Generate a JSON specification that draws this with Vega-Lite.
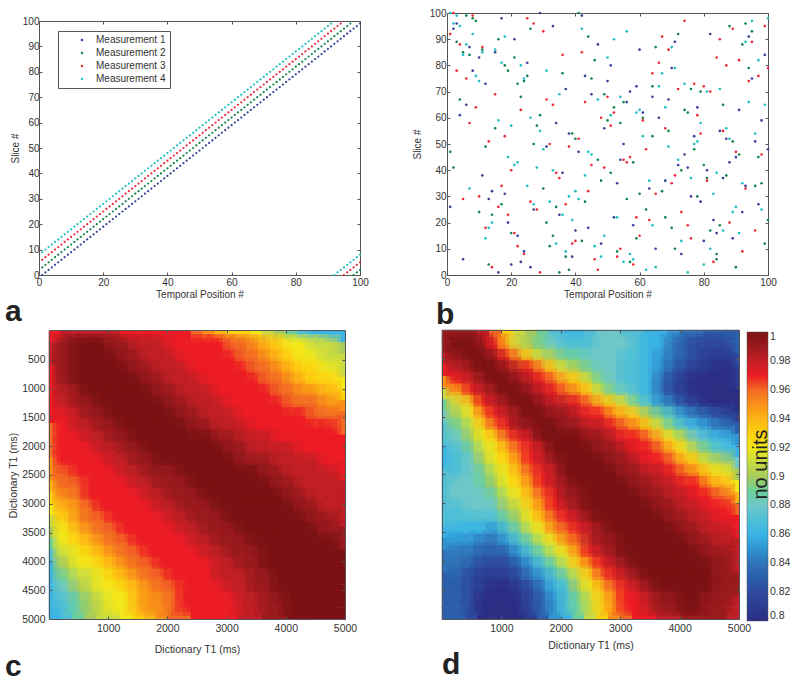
{"$schema":"https://vega.github.io/schema/vega-lite/v6.json","background":"white","padding":{"left":4,"top":8,"right":5,"bottom":5},"bounds":"flush","align":"all","columns":2,"spacing":{"row":28,"column":77},
"config":{"view":{"stroke":null},"font":"Liberation Sans","axis":{"labelFlush":false,"labelFont":"Liberation Sans","titleFont":"Liberation Sans","labelFontSize":10.5,"titleFontSize":10.5,"titleFontWeight":"normal","grid":false,"tickSize":-3,"domainColor":"#555","tickColor":"#555","labelColor":"#333","titleColor":"#333","labelPadding":3,"titlePadding":2}},
"datasets":{
"a":[{"x":1,"y":0,"m":1},{"x":2,"y":1,"m":1},{"x":3,"y":2,"m":1},{"x":4,"y":3,"m":1},{"x":5,"y":4,"m":1},{"x":6,"y":5,"m":1},{"x":7,"y":6,"m":1},{"x":8,"y":7,"m":1},{"x":9,"y":8,"m":1},{"x":10,"y":9,"m":1},{"x":11,"y":10,"m":1},{"x":12,"y":11,"m":1},{"x":13,"y":12,"m":1},{"x":14,"y":13,"m":1},{"x":15,"y":14,"m":1},{"x":16,"y":15,"m":1},{"x":17,"y":16,"m":1},{"x":18,"y":17,"m":1},{"x":19,"y":18,"m":1},{"x":20,"y":19,"m":1},{"x":21,"y":20,"m":1},{"x":22,"y":21,"m":1},{"x":23,"y":22,"m":1},{"x":24,"y":23,"m":1},{"x":25,"y":24,"m":1},{"x":26,"y":25,"m":1},{"x":27,"y":26,"m":1},{"x":28,"y":27,"m":1},{"x":29,"y":28,"m":1},{"x":30,"y":29,"m":1},{"x":31,"y":30,"m":1},{"x":32,"y":31,"m":1},{"x":33,"y":32,"m":1},{"x":34,"y":33,"m":1},{"x":35,"y":34,"m":1},{"x":36,"y":35,"m":1},{"x":37,"y":36,"m":1},{"x":38,"y":37,"m":1},{"x":39,"y":38,"m":1},{"x":40,"y":39,"m":1},{"x":41,"y":40,"m":1},{"x":42,"y":41,"m":1},{"x":43,"y":42,"m":1},{"x":44,"y":43,"m":1},{"x":45,"y":44,"m":1},{"x":46,"y":45,"m":1},{"x":47,"y":46,"m":1},{"x":48,"y":47,"m":1},{"x":49,"y":48,"m":1},{"x":50,"y":49,"m":1},{"x":51,"y":50,"m":1},{"x":52,"y":51,"m":1},{"x":53,"y":52,"m":1},{"x":54,"y":53,"m":1},{"x":55,"y":54,"m":1},{"x":56,"y":55,"m":1},{"x":57,"y":56,"m":1},{"x":58,"y":57,"m":1},{"x":59,"y":58,"m":1},{"x":60,"y":59,"m":1},{"x":61,"y":60,"m":1},{"x":62,"y":61,"m":1},{"x":63,"y":62,"m":1},{"x":64,"y":63,"m":1},{"x":65,"y":64,"m":1},{"x":66,"y":65,"m":1},{"x":67,"y":66,"m":1},{"x":68,"y":67,"m":1},{"x":69,"y":68,"m":1},{"x":70,"y":69,"m":1},{"x":71,"y":70,"m":1},{"x":72,"y":71,"m":1},{"x":73,"y":72,"m":1},{"x":74,"y":73,"m":1},{"x":75,"y":74,"m":1},{"x":76,"y":75,"m":1},{"x":77,"y":76,"m":1},{"x":78,"y":77,"m":1},{"x":79,"y":78,"m":1},{"x":80,"y":79,"m":1},{"x":81,"y":80,"m":1},{"x":82,"y":81,"m":1},{"x":83,"y":82,"m":1},{"x":84,"y":83,"m":1},{"x":85,"y":84,"m":1},{"x":86,"y":85,"m":1},{"x":87,"y":86,"m":1},{"x":88,"y":87,"m":1},{"x":89,"y":88,"m":1},{"x":90,"y":89,"m":1},{"x":91,"y":90,"m":1},{"x":92,"y":91,"m":1},{"x":93,"y":92,"m":1},{"x":94,"y":93,"m":1},{"x":95,"y":94,"m":1},{"x":96,"y":95,"m":1},{"x":97,"y":96,"m":1},{"x":98,"y":97,"m":1},{"x":99,"y":98,"m":1},{"x":100,"y":99,"m":1},
{"x":1,"y":3,"m":2},{"x":2,"y":4,"m":2},{"x":3,"y":5,"m":2},{"x":4,"y":6,"m":2},{"x":5,"y":7,"m":2},{"x":6,"y":8,"m":2},{"x":7,"y":9,"m":2},{"x":8,"y":10,"m":2},{"x":9,"y":11,"m":2},{"x":10,"y":12,"m":2},{"x":11,"y":13,"m":2},{"x":12,"y":14,"m":2},{"x":13,"y":15,"m":2},{"x":14,"y":16,"m":2},{"x":15,"y":17,"m":2},{"x":16,"y":18,"m":2},{"x":17,"y":19,"m":2},{"x":18,"y":20,"m":2},{"x":19,"y":21,"m":2},{"x":20,"y":22,"m":2},{"x":21,"y":23,"m":2},{"x":22,"y":24,"m":2},{"x":23,"y":25,"m":2},{"x":24,"y":26,"m":2},{"x":25,"y":27,"m":2},{"x":26,"y":28,"m":2},{"x":27,"y":29,"m":2},{"x":28,"y":30,"m":2},{"x":29,"y":31,"m":2},{"x":30,"y":32,"m":2},{"x":31,"y":33,"m":2},{"x":32,"y":34,"m":2},{"x":33,"y":35,"m":2},{"x":34,"y":36,"m":2},{"x":35,"y":37,"m":2},{"x":36,"y":38,"m":2},{"x":37,"y":39,"m":2},{"x":38,"y":40,"m":2},{"x":39,"y":41,"m":2},{"x":40,"y":42,"m":2},{"x":41,"y":43,"m":2},{"x":42,"y":44,"m":2},{"x":43,"y":45,"m":2},{"x":44,"y":46,"m":2},{"x":45,"y":47,"m":2},{"x":46,"y":48,"m":2},{"x":47,"y":49,"m":2},{"x":48,"y":50,"m":2},{"x":49,"y":51,"m":2},{"x":50,"y":52,"m":2},{"x":51,"y":53,"m":2},{"x":52,"y":54,"m":2},{"x":53,"y":55,"m":2},{"x":54,"y":56,"m":2},{"x":55,"y":57,"m":2},{"x":56,"y":58,"m":2},{"x":57,"y":59,"m":2},{"x":58,"y":60,"m":2},{"x":59,"y":61,"m":2},{"x":60,"y":62,"m":2},{"x":61,"y":63,"m":2},{"x":62,"y":64,"m":2},{"x":63,"y":65,"m":2},{"x":64,"y":66,"m":2},{"x":65,"y":67,"m":2},{"x":66,"y":68,"m":2},{"x":67,"y":69,"m":2},{"x":68,"y":70,"m":2},{"x":69,"y":71,"m":2},{"x":70,"y":72,"m":2},{"x":71,"y":73,"m":2},{"x":72,"y":74,"m":2},{"x":73,"y":75,"m":2},{"x":74,"y":76,"m":2},{"x":75,"y":77,"m":2},{"x":76,"y":78,"m":2},{"x":77,"y":79,"m":2},{"x":78,"y":80,"m":2},{"x":79,"y":81,"m":2},{"x":80,"y":82,"m":2},{"x":81,"y":83,"m":2},{"x":82,"y":84,"m":2},{"x":83,"y":85,"m":2},{"x":84,"y":86,"m":2},{"x":85,"y":87,"m":2},{"x":86,"y":88,"m":2},{"x":87,"y":89,"m":2},{"x":88,"y":90,"m":2},{"x":89,"y":91,"m":2},{"x":90,"y":92,"m":2},{"x":91,"y":93,"m":2},{"x":92,"y":94,"m":2},{"x":93,"y":95,"m":2},{"x":94,"y":96,"m":2},{"x":95,"y":97,"m":2},{"x":96,"y":98,"m":2},{"x":97,"y":99,"m":2},{"x":98,"y":0,"m":2},{"x":99,"y":1,"m":2},{"x":100,"y":2,"m":2},
{"x":1,"y":6,"m":3},{"x":2,"y":7,"m":3},{"x":3,"y":8,"m":3},{"x":4,"y":9,"m":3},{"x":5,"y":10,"m":3},{"x":6,"y":11,"m":3},{"x":7,"y":12,"m":3},{"x":8,"y":13,"m":3},{"x":9,"y":14,"m":3},{"x":10,"y":15,"m":3},{"x":11,"y":16,"m":3},{"x":12,"y":17,"m":3},{"x":13,"y":18,"m":3},{"x":14,"y":19,"m":3},{"x":15,"y":20,"m":3},{"x":16,"y":21,"m":3},{"x":17,"y":22,"m":3},{"x":18,"y":23,"m":3},{"x":19,"y":24,"m":3},{"x":20,"y":25,"m":3},{"x":21,"y":26,"m":3},{"x":22,"y":27,"m":3},{"x":23,"y":28,"m":3},{"x":24,"y":29,"m":3},{"x":25,"y":30,"m":3},{"x":26,"y":31,"m":3},{"x":27,"y":32,"m":3},{"x":28,"y":33,"m":3},{"x":29,"y":34,"m":3},{"x":30,"y":35,"m":3},{"x":31,"y":36,"m":3},{"x":32,"y":37,"m":3},{"x":33,"y":38,"m":3},{"x":34,"y":39,"m":3},{"x":35,"y":40,"m":3},{"x":36,"y":41,"m":3},{"x":37,"y":42,"m":3},{"x":38,"y":43,"m":3},{"x":39,"y":44,"m":3},{"x":40,"y":45,"m":3},{"x":41,"y":46,"m":3},{"x":42,"y":47,"m":3},{"x":43,"y":48,"m":3},{"x":44,"y":49,"m":3},{"x":45,"y":50,"m":3},{"x":46,"y":51,"m":3},{"x":47,"y":52,"m":3},{"x":48,"y":53,"m":3},{"x":49,"y":54,"m":3},{"x":50,"y":55,"m":3},{"x":51,"y":56,"m":3},{"x":52,"y":57,"m":3},{"x":53,"y":58,"m":3},{"x":54,"y":59,"m":3},{"x":55,"y":60,"m":3},{"x":56,"y":61,"m":3},{"x":57,"y":62,"m":3},{"x":58,"y":63,"m":3},{"x":59,"y":64,"m":3},{"x":60,"y":65,"m":3},{"x":61,"y":66,"m":3},{"x":62,"y":67,"m":3},{"x":63,"y":68,"m":3},{"x":64,"y":69,"m":3},{"x":65,"y":70,"m":3},{"x":66,"y":71,"m":3},{"x":67,"y":72,"m":3},{"x":68,"y":73,"m":3},{"x":69,"y":74,"m":3},{"x":70,"y":75,"m":3},{"x":71,"y":76,"m":3},{"x":72,"y":77,"m":3},{"x":73,"y":78,"m":3},{"x":74,"y":79,"m":3},{"x":75,"y":80,"m":3},{"x":76,"y":81,"m":3},{"x":77,"y":82,"m":3},{"x":78,"y":83,"m":3},{"x":79,"y":84,"m":3},{"x":80,"y":85,"m":3},{"x":81,"y":86,"m":3},{"x":82,"y":87,"m":3},{"x":83,"y":88,"m":3},{"x":84,"y":89,"m":3},{"x":85,"y":90,"m":3},{"x":86,"y":91,"m":3},{"x":87,"y":92,"m":3},{"x":88,"y":93,"m":3},{"x":89,"y":94,"m":3},{"x":90,"y":95,"m":3},{"x":91,"y":96,"m":3},{"x":92,"y":97,"m":3},{"x":93,"y":98,"m":3},{"x":94,"y":99,"m":3},{"x":95,"y":0,"m":3},{"x":96,"y":1,"m":3},{"x":97,"y":2,"m":3},{"x":98,"y":3,"m":3},{"x":99,"y":4,"m":3},{"x":100,"y":5,"m":3},
{"x":1,"y":9,"m":4},{"x":2,"y":10,"m":4},{"x":3,"y":11,"m":4},{"x":4,"y":12,"m":4},{"x":5,"y":13,"m":4},{"x":6,"y":14,"m":4},{"x":7,"y":15,"m":4},{"x":8,"y":16,"m":4},{"x":9,"y":17,"m":4},{"x":10,"y":18,"m":4},{"x":11,"y":19,"m":4},{"x":12,"y":20,"m":4},{"x":13,"y":21,"m":4},{"x":14,"y":22,"m":4},{"x":15,"y":23,"m":4},{"x":16,"y":24,"m":4},{"x":17,"y":25,"m":4},{"x":18,"y":26,"m":4},{"x":19,"y":27,"m":4},{"x":20,"y":28,"m":4},{"x":21,"y":29,"m":4},{"x":22,"y":30,"m":4},{"x":23,"y":31,"m":4},{"x":24,"y":32,"m":4},{"x":25,"y":33,"m":4},{"x":26,"y":34,"m":4},{"x":27,"y":35,"m":4},{"x":28,"y":36,"m":4},{"x":29,"y":37,"m":4},{"x":30,"y":38,"m":4},{"x":31,"y":39,"m":4},{"x":32,"y":40,"m":4},{"x":33,"y":41,"m":4},{"x":34,"y":42,"m":4},{"x":35,"y":43,"m":4},{"x":36,"y":44,"m":4},{"x":37,"y":45,"m":4},{"x":38,"y":46,"m":4},{"x":39,"y":47,"m":4},{"x":40,"y":48,"m":4},{"x":41,"y":49,"m":4},{"x":42,"y":50,"m":4},{"x":43,"y":51,"m":4},{"x":44,"y":52,"m":4},{"x":45,"y":53,"m":4},{"x":46,"y":54,"m":4},{"x":47,"y":55,"m":4},{"x":48,"y":56,"m":4},{"x":49,"y":57,"m":4},{"x":50,"y":58,"m":4},{"x":51,"y":59,"m":4},{"x":52,"y":60,"m":4},{"x":53,"y":61,"m":4},{"x":54,"y":62,"m":4},{"x":55,"y":63,"m":4},{"x":56,"y":64,"m":4},{"x":57,"y":65,"m":4},{"x":58,"y":66,"m":4},{"x":59,"y":67,"m":4},{"x":60,"y":68,"m":4},{"x":61,"y":69,"m":4},{"x":62,"y":70,"m":4},{"x":63,"y":71,"m":4},{"x":64,"y":72,"m":4},{"x":65,"y":73,"m":4},{"x":66,"y":74,"m":4},{"x":67,"y":75,"m":4},{"x":68,"y":76,"m":4},{"x":69,"y":77,"m":4},{"x":70,"y":78,"m":4},{"x":71,"y":79,"m":4},{"x":72,"y":80,"m":4},{"x":73,"y":81,"m":4},{"x":74,"y":82,"m":4},{"x":75,"y":83,"m":4},{"x":76,"y":84,"m":4},{"x":77,"y":85,"m":4},{"x":78,"y":86,"m":4},{"x":79,"y":87,"m":4},{"x":80,"y":88,"m":4},{"x":81,"y":89,"m":4},{"x":82,"y":90,"m":4},{"x":83,"y":91,"m":4},{"x":84,"y":92,"m":4},{"x":85,"y":93,"m":4},{"x":86,"y":94,"m":4},{"x":87,"y":95,"m":4},{"x":88,"y":96,"m":4},{"x":89,"y":97,"m":4},{"x":90,"y":98,"m":4},{"x":91,"y":99,"m":4},{"x":92,"y":0,"m":4},{"x":93,"y":1,"m":4},{"x":94,"y":2,"m":4},{"x":95,"y":3,"m":4},{"x":96,"y":4,"m":4},{"x":97,"y":5,"m":4},{"x":98,"y":6,"m":4},{"x":99,"y":7,"m":4},{"x":100,"y":8,"m":4}],
"b":[{"x":1,"y":100,"m":4},{"x":2,"y":100,"m":3},{"x":8,"y":99,"m":3},{"x":3,"y":99,"m":4},{"x":6,"y":99,"m":2},{"x":8,"y":98,"m":2},{"x":9,"y":97,"m":2},{"x":2,"y":96,"m":4},{"x":3,"y":96,"m":1},{"x":4,"y":95,"m":4},{"x":2,"y":94,"m":1},{"x":1,"y":92,"m":3},{"x":8,"y":92,"m":4},{"x":3,"y":89,"m":2},{"x":4,"y":88,"m":3},{"x":6,"y":88,"m":4},{"x":7,"y":87,"m":1},{"x":11,"y":87,"m":3},{"x":11,"y":86,"m":2},{"x":11,"y":85,"m":4},{"x":5,"y":85,"m":2},{"x":5,"y":84,"m":4},{"x":7,"y":84,"m":2},{"x":10,"y":83,"m":1},{"x":15,"y":86,"m":4},{"x":15,"y":85,"m":1},{"x":16,"y":90,"m":2},{"x":18,"y":91,"m":4},{"x":21,"y":90,"m":1},{"x":17,"y":98,"m":1},{"x":25,"y":98,"m":3},{"x":27,"y":96,"m":3},{"x":26,"y":94,"m":2},{"x":30,"y":93,"m":3},{"x":33,"y":95,"m":1},{"x":29,"y":100,"m":1},{"x":41,"y":100,"m":2},{"x":42,"y":99,"m":1},{"x":42,"y":94,"m":4},{"x":44,"y":91,"m":2},{"x":47,"y":88,"m":1},{"x":42,"y":85,"m":3},{"x":36,"y":84,"m":3},{"x":21,"y":83,"m":2},{"x":25,"y":81,"m":1},{"x":17,"y":81,"m":4},{"x":18,"y":80,"m":2},{"x":23,"y":80,"m":4},{"x":19,"y":78,"m":2},{"x":31,"y":78,"m":4},{"x":3,"y":78,"m":3},{"x":8,"y":78,"m":1},{"x":9,"y":76,"m":4},{"x":6,"y":75,"m":3},{"x":10,"y":74,"m":4},{"x":12,"y":73,"m":1},{"x":25,"y":76,"m":2},{"x":24,"y":75,"m":4},{"x":24,"y":74,"m":2},{"x":22,"y":73,"m":2},{"x":36,"y":77,"m":2},{"x":43,"y":76,"m":1},{"x":45,"y":75,"m":2},{"x":37,"y":71,"m":1},{"x":46,"y":82,"m":2},{"x":50,"y":83,"m":4},{"x":51,"y":80,"m":1},{"x":52,"y":90,"m":4},{"x":56,"y":93,"m":4},{"x":60,"y":86,"m":1},{"x":65,"y":87,"m":2},{"x":67,"y":91,"m":3},{"x":69,"y":86,"m":3},{"x":70,"y":87,"m":4},{"x":71,"y":89,"m":1},{"x":72,"y":92,"m":2},{"x":74,"y":97,"m":3},{"x":82,"y":92,"m":1},{"x":85,"y":90,"m":3},{"x":88,"y":95,"m":2},{"x":89,"y":94,"m":3},{"x":93,"y":96,"m":2},{"x":95,"y":97,"m":4},{"x":94,"y":91,"m":1},{"x":95,"y":93,"m":2},{"x":95,"y":89,"m":3},{"x":92,"y":88,"m":2},{"x":93,"y":89,"m":4},{"x":99,"y":95,"m":3},{"x":100,"y":98,"m":4},{"x":99,"y":84,"m":1},{"x":97,"y":82,"m":4},{"x":91,"y":82,"m":3},{"x":94,"y":79,"m":2},{"x":100,"y":79,"m":3},{"x":95,"y":75,"m":1},{"x":94,"y":74,"m":3},{"x":97,"y":76,"m":3},{"x":84,"y":83,"m":3},{"x":87,"y":80,"m":3},{"x":70,"y":79,"m":1},{"x":71,"y":79,"m":4},{"x":66,"y":81,"m":3},{"x":64,"y":77,"m":3},{"x":67,"y":77,"m":4},{"x":50,"y":74,"m":1},{"x":64,"y":72,"m":2},{"x":66,"y":72,"m":4},{"x":59,"y":72,"m":1},{"x":57,"y":70,"m":1},{"x":74,"y":73,"m":4},{"x":77,"y":73,"m":3},{"x":72,"y":71,"m":3},{"x":76,"y":71,"m":2},{"x":80,"y":72,"m":3},{"x":79,"y":70,"m":2},{"x":81,"y":70,"m":4},{"x":82,"y":70,"m":3},{"x":85,"y":71,"m":4},{"x":15,"y":69,"m":3},{"x":35,"y":69,"m":4},{"x":45,"y":69,"m":1},{"x":49,"y":69,"m":2},{"x":47,"y":67,"m":4},{"x":50,"y":68,"m":3},{"x":54,"y":68,"m":4},{"x":43,"y":66,"m":3},{"x":55,"y":66,"m":2},{"x":56,"y":66,"m":1},{"x":64,"y":68,"m":1},{"x":69,"y":67,"m":1},{"x":4,"y":67,"m":2},{"x":23,"y":68,"m":2},{"x":31,"y":67,"m":3},{"x":33,"y":65,"m":3},{"x":6,"y":65,"m":1},{"x":9,"y":64,"m":3},{"x":23,"y":63,"m":3},{"x":52,"y":64,"m":2},{"x":68,"y":64,"m":4},{"x":78,"y":64,"m":1},{"x":86,"y":65,"m":2},{"x":94,"y":66,"m":4},{"x":99,"y":65,"m":4},{"x":91,"y":63,"m":1},{"x":74,"y":63,"m":2},{"x":75,"y":62,"m":2},{"x":78,"y":61,"m":3},{"x":52,"y":62,"m":3},{"x":51,"y":61,"m":4},{"x":59,"y":62,"m":4},{"x":60,"y":63,"m":4},{"x":61,"y":62,"m":1},{"x":4,"y":61,"m":1},{"x":29,"y":61,"m":2},{"x":26,"y":60,"m":4},{"x":16,"y":59,"m":4},{"x":48,"y":60,"m":3},{"x":50,"y":59,"m":2},{"x":61,"y":60,"m":2},{"x":61,"y":59,"m":3},{"x":66,"y":60,"m":1},{"x":7,"y":58,"m":3},{"x":34,"y":58,"m":1},{"x":54,"y":58,"m":2},{"x":79,"y":58,"m":4},{"x":98,"y":59,"m":1},{"x":20,"y":57,"m":4},{"x":28,"y":57,"m":2},{"x":51,"y":57,"m":3},{"x":15,"y":56,"m":2},{"x":49,"y":56,"m":1},{"x":68,"y":56,"m":3},{"x":87,"y":56,"m":4},{"x":29,"y":55,"m":4},{"x":69,"y":55,"m":2},{"x":85,"y":55,"m":1},{"x":86,"y":55,"m":3},{"x":38,"y":54,"m":1},{"x":39,"y":54,"m":2},{"x":79,"y":54,"m":3},{"x":96,"y":54,"m":4},{"x":18,"y":53,"m":3},{"x":61,"y":53,"m":4},{"x":64,"y":53,"m":2},{"x":77,"y":53,"m":1},{"x":40,"y":52,"m":2},{"x":41,"y":52,"m":3},{"x":87,"y":52,"m":1},{"x":88,"y":52,"m":4},{"x":13,"y":51,"m":3},{"x":78,"y":51,"m":4},{"x":89,"y":51,"m":2},{"x":96,"y":51,"m":1},{"x":27,"y":50,"m":2},{"x":32,"y":50,"m":3},{"x":55,"y":50,"m":1},{"x":77,"y":50,"m":4},{"x":12,"y":49,"m":2},{"x":31,"y":49,"m":1},{"x":38,"y":49,"m":3},{"x":69,"y":49,"m":4},{"x":30,"y":48,"m":4},{"x":62,"y":48,"m":3},{"x":77,"y":48,"m":2},{"x":100,"y":48,"m":1},{"x":1,"y":47,"m":2},{"x":41,"y":47,"m":1},{"x":44,"y":47,"m":4},{"x":90,"y":47,"m":3},{"x":45,"y":46,"m":4},{"x":74,"y":46,"m":1},{"x":91,"y":46,"m":2},{"x":98,"y":46,"m":3},{"x":19,"y":45,"m":4},{"x":57,"y":45,"m":3},{"x":90,"y":45,"m":1},{"x":97,"y":45,"m":2},{"x":22,"y":43,"m":4},{"x":21,"y":42,"m":4},{"x":47,"y":44,"m":2},{"x":54,"y":44,"m":1},{"x":55,"y":44,"m":3},{"x":72,"y":44,"m":4},{"x":56,"y":43,"m":3},{"x":58,"y":43,"m":2},{"x":88,"y":43,"m":1},{"x":45,"y":42,"m":3},{"x":72,"y":42,"m":1},{"x":80,"y":42,"m":2},{"x":2,"y":41,"m":2},{"x":28,"y":41,"m":4},{"x":49,"y":41,"m":3},{"x":75,"y":41,"m":1},{"x":20,"y":40,"m":3},{"x":33,"y":40,"m":4},{"x":73,"y":40,"m":2},{"x":81,"y":40,"m":1},{"x":34,"y":39,"m":3},{"x":36,"y":39,"m":1},{"x":51,"y":39,"m":2},{"x":84,"y":39,"m":4},{"x":11,"y":38,"m":1},{"x":43,"y":38,"m":4},{"x":71,"y":38,"m":3},{"x":87,"y":38,"m":2},{"x":35,"y":37,"m":3},{"x":76,"y":37,"m":4},{"x":81,"y":37,"m":2},{"x":86,"y":37,"m":1},{"x":48,"y":36,"m":2},{"x":63,"y":36,"m":4},{"x":68,"y":36,"m":1},{"x":81,"y":36,"m":3},{"x":53,"y":35,"m":1},{"x":70,"y":35,"m":3},{"x":92,"y":35,"m":4},{"x":98,"y":35,"m":2},{"x":17,"y":34,"m":3},{"x":25,"y":34,"m":4},{"x":93,"y":34,"m":1},{"x":96,"y":34,"m":2},{"x":7,"y":33,"m":4},{"x":30,"y":33,"m":2},{"x":63,"y":33,"m":1},{"x":93,"y":33,"m":3},{"x":14,"y":32,"m":1},{"x":40,"y":32,"m":4},{"x":44,"y":32,"m":3},{"x":67,"y":32,"m":2},{"x":18,"y":31,"m":1},{"x":60,"y":31,"m":2},{"x":65,"y":31,"m":3},{"x":83,"y":31,"m":4},{"x":10,"y":30,"m":3},{"x":38,"y":30,"m":4},{"x":76,"y":30,"m":1},{"x":78,"y":30,"m":2},{"x":5,"y":29,"m":3},{"x":13,"y":29,"m":1},{"x":41,"y":29,"m":4},{"x":56,"y":29,"m":2},{"x":26,"y":28,"m":3},{"x":32,"y":28,"m":4},{"x":43,"y":28,"m":2},{"x":79,"y":28,"m":1},{"x":17,"y":27,"m":2},{"x":27,"y":27,"m":4},{"x":37,"y":27,"m":3},{"x":97,"y":27,"m":1},{"x":1,"y":26,"m":1},{"x":16,"y":26,"m":3},{"x":34,"y":26,"m":2},{"x":90,"y":26,"m":4},{"x":27,"y":25,"m":1},{"x":28,"y":25,"m":3},{"x":62,"y":25,"m":2},{"x":98,"y":25,"m":4},{"x":10,"y":24,"m":2},{"x":73,"y":24,"m":3},{"x":89,"y":24,"m":4},{"x":92,"y":24,"m":1},{"x":14,"y":23,"m":2},{"x":19,"y":23,"m":3},{"x":35,"y":23,"m":1},{"x":36,"y":23,"m":4},{"x":52,"y":22,"m":1},{"x":53,"y":22,"m":4},{"x":59,"y":22,"m":3},{"x":68,"y":22,"m":2},{"x":39,"y":21,"m":4},{"x":63,"y":21,"m":3},{"x":83,"y":21,"m":1},{"x":100,"y":21,"m":2},{"x":14,"y":20,"m":4},{"x":19,"y":20,"m":1},{"x":31,"y":20,"m":2},{"x":88,"y":20,"m":3},{"x":58,"y":19,"m":1},{"x":64,"y":19,"m":4},{"x":75,"y":19,"m":3},{"x":85,"y":19,"m":2},{"x":12,"y":18,"m":3},{"x":13,"y":18,"m":4},{"x":44,"y":18,"m":1},{"x":70,"y":18,"m":2},{"x":40,"y":17,"m":1},{"x":82,"y":17,"m":2},{"x":86,"y":17,"m":4},{"x":96,"y":17,"m":3},{"x":20,"y":16,"m":2},{"x":21,"y":16,"m":3},{"x":84,"y":16,"m":1},{"x":91,"y":16,"m":4},{"x":22,"y":15,"m":1},{"x":33,"y":15,"m":2},{"x":49,"y":15,"m":4},{"x":60,"y":15,"m":3},{"x":12,"y":14,"m":4},{"x":59,"y":14,"m":2},{"x":76,"y":14,"m":3},{"x":89,"y":14,"m":1},{"x":40,"y":13,"m":3},{"x":42,"y":13,"m":2},{"x":73,"y":13,"m":4},{"x":80,"y":13,"m":1},{"x":34,"y":12,"m":4},{"x":39,"y":12,"m":3},{"x":48,"y":12,"m":1},{"x":99,"y":12,"m":2},{"x":22,"y":11,"m":3},{"x":32,"y":11,"m":2},{"x":46,"y":11,"m":4},{"x":65,"y":10,"m":1},{"x":54,"y":10,"m":3},{"x":71,"y":10,"m":2},{"x":82,"y":10,"m":4},{"x":24,"y":9,"m":1},{"x":37,"y":9,"m":4},{"x":53,"y":9,"m":2},{"x":92,"y":9,"m":3},{"x":24,"y":8,"m":3},{"x":57,"y":8,"m":4},{"x":73,"y":8,"m":1},{"x":84,"y":8,"m":2},{"x":37,"y":7,"m":2},{"x":39,"y":7,"m":1},{"x":48,"y":7,"m":4},{"x":53,"y":7,"m":3},{"x":5,"y":6,"m":1},{"x":46,"y":6,"m":3},{"x":58,"y":6,"m":4},{"x":84,"y":6,"m":2},{"x":23,"y":5,"m":1},{"x":55,"y":5,"m":4},{"x":57,"y":5,"m":2},{"x":83,"y":5,"m":3},{"x":13,"y":4,"m":2},{"x":20,"y":4,"m":1},{"x":58,"y":4,"m":3},{"x":80,"y":4,"m":4},{"x":14,"y":3,"m":3},{"x":26,"y":3,"m":1},{"x":65,"y":3,"m":4},{"x":90,"y":3,"m":2},{"x":38,"y":2,"m":2},{"x":47,"y":2,"m":3},{"x":62,"y":2,"m":4},{"x":16,"y":1,"m":1},{"x":29,"y":1,"m":3},{"x":35,"y":1,"m":2},{"x":75,"y":1,"m":4}],
"h":[
{"x":100,"y":100,"c":0.97,"d":0.99},{"x":300,"y":100,"c":0.98,"d":0.99},{"x":500,"y":100,"c":0.98,"d":0.99},{"x":700,"y":100,"c":0.98,"d":0.98},{"x":900,"y":100,"c":0.98,"d":0.96},{"x":1100,"y":100,"c":0.98,"d":0.93},{"x":1300,"y":100,"c":0.97,"d":0.91},{"x":1500,"y":100,"c":0.97,"d":0.9},{"x":1700,"y":100,"c":0.97,"d":0.89},{"x":1900,"y":100,"c":0.97,"d":0.87},{"x":2100,"y":100,"c":0.97,"d":0.86},{"x":2300,"y":100,"c":0.97,"d":0.86},{"x":2500,"y":100,"c":0.96,"d":0.87},{"x":2700,"y":100,"c":0.95,"d":0.88},{"x":2900,"y":100,"c":0.94,"d":0.88},{"x":3100,"y":100,"c":0.93,"d":0.87},{"x":3300,"y":100,"c":0.93,"d":0.87},{"x":3500,"y":100,"c":0.92,"d":0.86},{"x":3700,"y":100,"c":0.91,"d":0.86},{"x":3900,"y":100,"c":0.9,"d":0.85},{"x":4100,"y":100,"c":0.89,"d":0.84},{"x":4300,"y":100,"c":0.87,"d":0.84},{"x":4500,"y":100,"c":0.86,"d":0.83},{"x":4700,"y":100,"c":0.86,"d":0.83},{"x":4900,"y":100,"c":0.86,"d":0.83},
{"x":100,"y":300,"c":0.98,"d":0.99},{"x":300,"y":300,"c":0.99,"d":1},{"x":500,"y":300,"c":1,"d":1},{"x":700,"y":300,"c":1,"d":0.99},{"x":900,"y":300,"c":1,"d":0.97},{"x":1100,"y":300,"c":0.99,"d":0.94},{"x":1300,"y":300,"c":0.99,"d":0.91},{"x":1500,"y":300,"c":0.98,"d":0.9},{"x":1700,"y":300,"c":0.98,"d":0.89},{"x":1900,"y":300,"c":0.98,"d":0.88},{"x":2100,"y":300,"c":0.97,"d":0.87},{"x":2300,"y":300,"c":0.97,"d":0.87},{"x":2500,"y":300,"c":0.97,"d":0.87},{"x":2700,"y":300,"c":0.97,"d":0.88},{"x":2900,"y":300,"c":0.97,"d":0.88},{"x":3100,"y":300,"c":0.96,"d":0.88},{"x":3300,"y":300,"c":0.96,"d":0.87},{"x":3500,"y":300,"c":0.95,"d":0.86},{"x":3700,"y":300,"c":0.94,"d":0.86},{"x":3900,"y":300,"c":0.93,"d":0.84},{"x":4100,"y":300,"c":0.92,"d":0.83},{"x":4300,"y":300,"c":0.92,"d":0.82},{"x":4500,"y":300,"c":0.91,"d":0.82},{"x":4700,"y":300,"c":0.91,"d":0.82},{"x":4900,"y":300,"c":0.9,"d":0.83},
{"x":100,"y":500,"c":0.98,"d":0.98},{"x":300,"y":500,"c":0.99,"d":0.99},{"x":500,"y":500,"c":1,"d":1},{"x":700,"y":500,"c":1,"d":1},{"x":900,"y":500,"c":1,"d":0.99},{"x":1100,"y":500,"c":1,"d":0.97},{"x":1300,"y":500,"c":0.99,"d":0.95},{"x":1500,"y":500,"c":0.99,"d":0.93},{"x":1700,"y":500,"c":0.98,"d":0.91},{"x":1900,"y":500,"c":0.98,"d":0.9},{"x":2100,"y":500,"c":0.98,"d":0.89},{"x":2300,"y":500,"c":0.97,"d":0.89},{"x":2500,"y":500,"c":0.97,"d":0.88},{"x":2700,"y":500,"c":0.97,"d":0.88},{"x":2900,"y":500,"c":0.97,"d":0.88},{"x":3100,"y":500,"c":0.97,"d":0.87},{"x":3300,"y":500,"c":0.96,"d":0.87},{"x":3500,"y":500,"c":0.96,"d":0.86},{"x":3700,"y":500,"c":0.95,"d":0.85},{"x":3900,"y":500,"c":0.94,"d":0.84},{"x":4100,"y":500,"c":0.93,"d":0.83},{"x":4300,"y":500,"c":0.92,"d":0.82},{"x":4500,"y":500,"c":0.92,"d":0.81},{"x":4700,"y":500,"c":0.91,"d":0.81},{"x":4900,"y":500,"c":0.91,"d":0.82},
{"x":100,"y":700,"c":0.97,"d":0.97},{"x":300,"y":700,"c":0.99,"d":0.98},{"x":500,"y":700,"c":1,"d":0.99},{"x":700,"y":700,"c":1,"d":1},{"x":900,"y":700,"c":1,"d":1},{"x":1100,"y":700,"c":1,"d":0.99},{"x":1300,"y":700,"c":1,"d":0.98},{"x":1500,"y":700,"c":0.99,"d":0.97},{"x":1700,"y":700,"c":0.99,"d":0.95},{"x":1900,"y":700,"c":0.98,"d":0.93},{"x":2100,"y":700,"c":0.98,"d":0.91},{"x":2300,"y":700,"c":0.98,"d":0.9},{"x":2500,"y":700,"c":0.97,"d":0.89},{"x":2700,"y":700,"c":0.97,"d":0.88},{"x":2900,"y":700,"c":0.97,"d":0.88},{"x":3100,"y":700,"c":0.97,"d":0.87},{"x":3300,"y":700,"c":0.97,"d":0.87},{"x":3500,"y":700,"c":0.96,"d":0.86},{"x":3700,"y":700,"c":0.96,"d":0.85},{"x":3900,"y":700,"c":0.95,"d":0.83},{"x":4100,"y":700,"c":0.94,"d":0.82},{"x":4300,"y":700,"c":0.93,"d":0.81},{"x":4500,"y":700,"c":0.93,"d":0.81},{"x":4700,"y":700,"c":0.92,"d":0.8},{"x":4900,"y":700,"c":0.91,"d":0.81},
{"x":100,"y":900,"c":0.97,"d":0.95},{"x":300,"y":900,"c":0.99,"d":0.97},{"x":500,"y":900,"c":1,"d":0.98},{"x":700,"y":900,"c":1,"d":0.99},{"x":900,"y":900,"c":1,"d":1},{"x":1100,"y":900,"c":1,"d":1},{"x":1300,"y":900,"c":1,"d":0.99},{"x":1500,"y":900,"c":1,"d":0.98},{"x":1700,"y":900,"c":0.99,"d":0.97},{"x":1900,"y":900,"c":0.99,"d":0.96},{"x":2100,"y":900,"c":0.98,"d":0.94},{"x":2300,"y":900,"c":0.98,"d":0.93},{"x":2500,"y":900,"c":0.98,"d":0.91},{"x":2700,"y":900,"c":0.97,"d":0.89},{"x":2900,"y":900,"c":0.97,"d":0.88},{"x":3100,"y":900,"c":0.97,"d":0.87},{"x":3300,"y":900,"c":0.97,"d":0.87},{"x":3500,"y":900,"c":0.97,"d":0.86},{"x":3700,"y":900,"c":0.96,"d":0.84},{"x":3900,"y":900,"c":0.96,"d":0.82},{"x":4100,"y":900,"c":0.95,"d":0.81},{"x":4300,"y":900,"c":0.94,"d":0.8},{"x":4500,"y":900,"c":0.93,"d":0.8},{"x":4700,"y":900,"c":0.93,"d":0.8},{"x":4900,"y":900,"c":0.92,"d":0.81},
{"x":100,"y":1100,"c":0.97,"d":0.91},{"x":300,"y":1100,"c":0.98,"d":0.94},{"x":500,"y":1100,"c":0.99,"d":0.97},{"x":700,"y":1100,"c":1,"d":0.98},{"x":900,"y":1100,"c":1,"d":0.99},{"x":1100,"y":1100,"c":1,"d":1},{"x":1300,"y":1100,"c":1,"d":1},{"x":1500,"y":1100,"c":1,"d":0.99},{"x":1700,"y":1100,"c":1,"d":0.98},{"x":1900,"y":1100,"c":0.99,"d":0.97},{"x":2100,"y":1100,"c":0.99,"d":0.96},{"x":2300,"y":1100,"c":0.98,"d":0.95},{"x":2500,"y":1100,"c":0.98,"d":0.93},{"x":2700,"y":1100,"c":0.98,"d":0.91},{"x":2900,"y":1100,"c":0.97,"d":0.89},{"x":3100,"y":1100,"c":0.97,"d":0.88},{"x":3300,"y":1100,"c":0.97,"d":0.87},{"x":3500,"y":1100,"c":0.97,"d":0.86},{"x":3700,"y":1100,"c":0.97,"d":0.84},{"x":3900,"y":1100,"c":0.96,"d":0.82},{"x":4100,"y":1100,"c":0.96,"d":0.81},{"x":4300,"y":1100,"c":0.95,"d":0.8},{"x":4500,"y":1100,"c":0.95,"d":0.8},{"x":4700,"y":1100,"c":0.94,"d":0.8},{"x":4900,"y":1100,"c":0.93,"d":0.8},
{"x":100,"y":1300,"c":0.97,"d":0.89},{"x":300,"y":1300,"c":0.98,"d":0.91},{"x":500,"y":1300,"c":0.99,"d":0.93},{"x":700,"y":1300,"c":0.99,"d":0.97},{"x":900,"y":1300,"c":1,"d":0.98},{"x":1100,"y":1300,"c":1,"d":0.99},{"x":1300,"y":1300,"c":1,"d":1},{"x":1500,"y":1300,"c":1,"d":1},{"x":1700,"y":1300,"c":1,"d":0.99},{"x":1900,"y":1300,"c":1,"d":0.98},{"x":2100,"y":1300,"c":0.99,"d":0.98},{"x":2300,"y":1300,"c":0.99,"d":0.97},{"x":2500,"y":1300,"c":0.98,"d":0.96},{"x":2700,"y":1300,"c":0.98,"d":0.94},{"x":2900,"y":1300,"c":0.98,"d":0.93},{"x":3100,"y":1300,"c":0.97,"d":0.91},{"x":3300,"y":1300,"c":0.97,"d":0.89},{"x":3500,"y":1300,"c":0.97,"d":0.87},{"x":3700,"y":1300,"c":0.97,"d":0.85},{"x":3900,"y":1300,"c":0.97,"d":0.84},{"x":4100,"y":1300,"c":0.96,"d":0.82},{"x":4300,"y":1300,"c":0.96,"d":0.81},{"x":4500,"y":1300,"c":0.96,"d":0.8},{"x":4700,"y":1300,"c":0.95,"d":0.8},{"x":4900,"y":1300,"c":0.95,"d":0.8},
{"x":100,"y":1500,"c":0.97,"d":0.88},{"x":300,"y":1500,"c":0.97,"d":0.9},{"x":500,"y":1500,"c":0.98,"d":0.92},{"x":700,"y":1500,"c":0.99,"d":0.95},{"x":900,"y":1500,"c":0.99,"d":0.97},{"x":1100,"y":1500,"c":1,"d":0.98},{"x":1300,"y":1500,"c":1,"d":0.99},{"x":1500,"y":1500,"c":1,"d":1},{"x":1700,"y":1500,"c":1,"d":1},{"x":1900,"y":1500,"c":1,"d":0.99},{"x":2100,"y":1500,"c":1,"d":0.99},{"x":2300,"y":1500,"c":0.99,"d":0.98},{"x":2500,"y":1500,"c":0.99,"d":0.97},{"x":2700,"y":1500,"c":0.98,"d":0.97},{"x":2900,"y":1500,"c":0.98,"d":0.95},{"x":3100,"y":1500,"c":0.98,"d":0.94},{"x":3300,"y":1500,"c":0.97,"d":0.93},{"x":3500,"y":1500,"c":0.97,"d":0.9},{"x":3700,"y":1500,"c":0.97,"d":0.89},{"x":3900,"y":1500,"c":0.97,"d":0.87},{"x":4100,"y":1500,"c":0.97,"d":0.85},{"x":4300,"y":1500,"c":0.97,"d":0.84},{"x":4500,"y":1500,"c":0.96,"d":0.83},{"x":4700,"y":1500,"c":0.96,"d":0.82},{"x":4900,"y":1500,"c":0.96,"d":0.81},
{"x":100,"y":1700,"c":0.96,"d":0.87},{"x":300,"y":1700,"c":0.97,"d":0.89},{"x":500,"y":1700,"c":0.98,"d":0.91},{"x":700,"y":1700,"c":0.98,"d":0.93},{"x":900,"y":1700,"c":0.99,"d":0.96},{"x":1100,"y":1700,"c":0.99,"d":0.97},{"x":1300,"y":1700,"c":1,"d":0.99},{"x":1500,"y":1700,"c":1,"d":0.99},{"x":1700,"y":1700,"c":1,"d":1},{"x":1900,"y":1700,"c":1,"d":1},{"x":2100,"y":1700,"c":1,"d":0.99},{"x":2300,"y":1700,"c":1,"d":0.99},{"x":2500,"y":1700,"c":0.99,"d":0.98},{"x":2700,"y":1700,"c":0.99,"d":0.98},{"x":2900,"y":1700,"c":0.98,"d":0.97},{"x":3100,"y":1700,"c":0.98,"d":0.96},{"x":3300,"y":1700,"c":0.98,"d":0.95},{"x":3500,"y":1700,"c":0.97,"d":0.93},{"x":3700,"y":1700,"c":0.97,"d":0.91},{"x":3900,"y":1700,"c":0.97,"d":0.89},{"x":4100,"y":1700,"c":0.97,"d":0.87},{"x":4300,"y":1700,"c":0.97,"d":0.86},{"x":4500,"y":1700,"c":0.97,"d":0.85},{"x":4700,"y":1700,"c":0.97,"d":0.84},{"x":4900,"y":1700,"c":0.96,"d":0.83},
{"x":100,"y":1900,"c":0.96,"d":0.87},{"x":300,"y":1900,"c":0.97,"d":0.88},{"x":500,"y":1900,"c":0.97,"d":0.9},{"x":700,"y":1900,"c":0.98,"d":0.92},{"x":900,"y":1900,"c":0.98,"d":0.93},{"x":1100,"y":1900,"c":0.99,"d":0.96},{"x":1300,"y":1900,"c":0.99,"d":0.97},{"x":1500,"y":1900,"c":1,"d":0.98},{"x":1700,"y":1900,"c":1,"d":1},{"x":1900,"y":1900,"c":1,"d":1},{"x":2100,"y":1900,"c":1,"d":1},{"x":2300,"y":1900,"c":1,"d":1},{"x":2500,"y":1900,"c":1,"d":0.99},{"x":2700,"y":1900,"c":1,"d":0.99},{"x":2900,"y":1900,"c":0.99,"d":0.98},{"x":3100,"y":1900,"c":0.99,"d":0.97},{"x":3300,"y":1900,"c":0.98,"d":0.97},{"x":3500,"y":1900,"c":0.98,"d":0.96},{"x":3700,"y":1900,"c":0.98,"d":0.94},{"x":3900,"y":1900,"c":0.97,"d":0.92},{"x":4100,"y":1900,"c":0.97,"d":0.9},{"x":4300,"y":1900,"c":0.97,"d":0.88},{"x":4500,"y":1900,"c":0.97,"d":0.87},{"x":4700,"y":1900,"c":0.97,"d":0.86},{"x":4900,"y":1900,"c":0.97,"d":0.85},
{"x":100,"y":2100,"c":0.96,"d":0.86},{"x":300,"y":2100,"c":0.97,"d":0.87},{"x":500,"y":2100,"c":0.97,"d":0.89},{"x":700,"y":2100,"c":0.97,"d":0.91},{"x":900,"y":2100,"c":0.98,"d":0.92},{"x":1100,"y":2100,"c":0.98,"d":0.94},{"x":1300,"y":2100,"c":0.99,"d":0.96},{"x":1500,"y":2100,"c":0.99,"d":0.97},{"x":1700,"y":2100,"c":1,"d":0.98},{"x":1900,"y":2100,"c":1,"d":1},{"x":2100,"y":2100,"c":1,"d":1},{"x":2300,"y":2100,"c":1,"d":1},{"x":2500,"y":2100,"c":1,"d":1},{"x":2700,"y":2100,"c":1,"d":0.99},{"x":2900,"y":2100,"c":1,"d":0.99},{"x":3100,"y":2100,"c":0.99,"d":0.98},{"x":3300,"y":2100,"c":0.99,"d":0.97},{"x":3500,"y":2100,"c":0.98,"d":0.97},{"x":3700,"y":2100,"c":0.98,"d":0.96},{"x":3900,"y":2100,"c":0.98,"d":0.94},{"x":4100,"y":2100,"c":0.98,"d":0.92},{"x":4300,"y":2100,"c":0.97,"d":0.9},{"x":4500,"y":2100,"c":0.97,"d":0.89},{"x":4700,"y":2100,"c":0.97,"d":0.87},{"x":4900,"y":2100,"c":0.97,"d":0.86},
{"x":100,"y":2300,"c":0.95,"d":0.86},{"x":300,"y":2300,"c":0.97,"d":0.87},{"x":500,"y":2300,"c":0.97,"d":0.88},{"x":700,"y":2300,"c":0.97,"d":0.9},{"x":900,"y":2300,"c":0.97,"d":0.92},{"x":1100,"y":2300,"c":0.98,"d":0.93},{"x":1300,"y":2300,"c":0.98,"d":0.95},{"x":1500,"y":2300,"c":0.99,"d":0.97},{"x":1700,"y":2300,"c":0.99,"d":0.98},{"x":1900,"y":2300,"c":1,"d":0.99},{"x":2100,"y":2300,"c":1,"d":1},{"x":2300,"y":2300,"c":1,"d":1},{"x":2500,"y":2300,"c":1,"d":1},{"x":2700,"y":2300,"c":1,"d":1},{"x":2900,"y":2300,"c":1,"d":0.99},{"x":3100,"y":2300,"c":1,"d":0.99},{"x":3300,"y":2300,"c":0.99,"d":0.98},{"x":3500,"y":2300,"c":0.99,"d":0.97},{"x":3700,"y":2300,"c":0.99,"d":0.97},{"x":3900,"y":2300,"c":0.98,"d":0.96},{"x":4100,"y":2300,"c":0.98,"d":0.94},{"x":4300,"y":2300,"c":0.98,"d":0.93},{"x":4500,"y":2300,"c":0.98,"d":0.91},{"x":4700,"y":2300,"c":0.97,"d":0.9},{"x":4900,"y":2300,"c":0.97,"d":0.88},
{"x":100,"y":2500,"c":0.95,"d":0.87},{"x":300,"y":2500,"c":0.96,"d":0.87},{"x":500,"y":2500,"c":0.97,"d":0.88},{"x":700,"y":2500,"c":0.97,"d":0.89},{"x":900,"y":2500,"c":0.97,"d":0.91},{"x":1100,"y":2500,"c":0.97,"d":0.92},{"x":1300,"y":2500,"c":0.98,"d":0.94},{"x":1500,"y":2500,"c":0.98,"d":0.96},{"x":1700,"y":2500,"c":0.99,"d":0.97},{"x":1900,"y":2500,"c":0.99,"d":0.98},{"x":2100,"y":2500,"c":0.99,"d":1},{"x":2300,"y":2500,"c":1,"d":1},{"x":2500,"y":2500,"c":1,"d":1},{"x":2700,"y":2500,"c":1,"d":1},{"x":2900,"y":2500,"c":1,"d":1},{"x":3100,"y":2500,"c":1,"d":0.99},{"x":3300,"y":2500,"c":1,"d":0.99},{"x":3500,"y":2500,"c":1,"d":0.98},{"x":3700,"y":2500,"c":0.99,"d":0.98},{"x":3900,"y":2500,"c":0.99,"d":0.97},{"x":4100,"y":2500,"c":0.98,"d":0.96},{"x":4300,"y":2500,"c":0.98,"d":0.95},{"x":4500,"y":2500,"c":0.98,"d":0.93},{"x":4700,"y":2500,"c":0.98,"d":0.92},{"x":4900,"y":2500,"c":0.97,"d":0.9},
{"x":100,"y":2700,"c":0.94,"d":0.87},{"x":300,"y":2700,"c":0.96,"d":0.88},{"x":500,"y":2700,"c":0.96,"d":0.88},{"x":700,"y":2700,"c":0.97,"d":0.89},{"x":900,"y":2700,"c":0.97,"d":0.9},{"x":1100,"y":2700,"c":0.97,"d":0.92},{"x":1300,"y":2700,"c":0.97,"d":0.93},{"x":1500,"y":2700,"c":0.98,"d":0.95},{"x":1700,"y":2700,"c":0.98,"d":0.97},{"x":1900,"y":2700,"c":0.99,"d":0.98},{"x":2100,"y":2700,"c":0.99,"d":0.99},{"x":2300,"y":2700,"c":0.99,"d":1},{"x":2500,"y":2700,"c":1,"d":1},{"x":2700,"y":2700,"c":1,"d":1},{"x":2900,"y":2700,"c":1,"d":1},{"x":3100,"y":2700,"c":1,"d":1},{"x":3300,"y":2700,"c":1,"d":0.99},{"x":3500,"y":2700,"c":1,"d":0.99},{"x":3700,"y":2700,"c":1,"d":0.98},{"x":3900,"y":2700,"c":0.99,"d":0.98},{"x":4100,"y":2700,"c":0.99,"d":0.97},{"x":4300,"y":2700,"c":0.98,"d":0.97},{"x":4500,"y":2700,"c":0.98,"d":0.95},{"x":4700,"y":2700,"c":0.98,"d":0.94},{"x":4900,"y":2700,"c":0.98,"d":0.92},
{"x":100,"y":2900,"c":0.93,"d":0.87},{"x":300,"y":2900,"c":0.95,"d":0.88},{"x":500,"y":2900,"c":0.96,"d":0.88},{"x":700,"y":2900,"c":0.97,"d":0.88},{"x":900,"y":2900,"c":0.97,"d":0.89},{"x":1100,"y":2900,"c":0.97,"d":0.91},{"x":1300,"y":2900,"c":0.97,"d":0.92},{"x":1500,"y":2900,"c":0.97,"d":0.94},{"x":1700,"y":2900,"c":0.98,"d":0.96},{"x":1900,"y":2900,"c":0.98,"d":0.97},{"x":2100,"y":2900,"c":0.99,"d":0.99},{"x":2300,"y":2900,"c":0.99,"d":0.99},{"x":2500,"y":2900,"c":0.99,"d":1},{"x":2700,"y":2900,"c":1,"d":1},{"x":2900,"y":2900,"c":1,"d":1},{"x":3100,"y":2900,"c":1,"d":1},{"x":3300,"y":2900,"c":1,"d":1},{"x":3500,"y":2900,"c":1,"d":0.99},{"x":3700,"y":2900,"c":1,"d":0.99},{"x":3900,"y":2900,"c":1,"d":0.98},{"x":4100,"y":2900,"c":0.99,"d":0.98},{"x":4300,"y":2900,"c":0.99,"d":0.97},{"x":4500,"y":2900,"c":0.98,"d":0.97},{"x":4700,"y":2900,"c":0.98,"d":0.96},{"x":4900,"y":2900,"c":0.98,"d":0.94},
{"x":100,"y":3100,"c":0.92,"d":0.87},{"x":300,"y":3100,"c":0.94,"d":0.87},{"x":500,"y":3100,"c":0.95,"d":0.88},{"x":700,"y":3100,"c":0.96,"d":0.88},{"x":900,"y":3100,"c":0.97,"d":0.88},{"x":1100,"y":3100,"c":0.97,"d":0.9},{"x":1300,"y":3100,"c":0.97,"d":0.91},{"x":1500,"y":3100,"c":0.97,"d":0.93},{"x":1700,"y":3100,"c":0.97,"d":0.95},{"x":1900,"y":3100,"c":0.98,"d":0.97},{"x":2100,"y":3100,"c":0.98,"d":0.98},{"x":2300,"y":3100,"c":0.99,"d":0.99},{"x":2500,"y":3100,"c":0.99,"d":1},{"x":2700,"y":3100,"c":0.99,"d":1},{"x":2900,"y":3100,"c":1,"d":1},{"x":3100,"y":3100,"c":1,"d":1},{"x":3300,"y":3100,"c":1,"d":1},{"x":3500,"y":3100,"c":1,"d":1},{"x":3700,"y":3100,"c":1,"d":0.99},{"x":3900,"y":3100,"c":1,"d":0.99},{"x":4100,"y":3100,"c":1,"d":0.98},{"x":4300,"y":3100,"c":0.99,"d":0.98},{"x":4500,"y":3100,"c":0.99,"d":0.97},{"x":4700,"y":3100,"c":0.98,"d":0.97},{"x":4900,"y":3100,"c":0.98,"d":0.96},
{"x":100,"y":3300,"c":0.91,"d":0.87},{"x":300,"y":3300,"c":0.93,"d":0.87},{"x":500,"y":3300,"c":0.95,"d":0.87},{"x":700,"y":3300,"c":0.96,"d":0.87},{"x":900,"y":3300,"c":0.96,"d":0.87},{"x":1100,"y":3300,"c":0.97,"d":0.89},{"x":1300,"y":3300,"c":0.97,"d":0.9},{"x":1500,"y":3300,"c":0.97,"d":0.92},{"x":1700,"y":3300,"c":0.97,"d":0.94},{"x":1900,"y":3300,"c":0.97,"d":0.96},{"x":2100,"y":3300,"c":0.98,"d":0.97},{"x":2300,"y":3300,"c":0.98,"d":0.98},{"x":2500,"y":3300,"c":0.99,"d":0.99},{"x":2700,"y":3300,"c":0.99,"d":1},{"x":2900,"y":3300,"c":0.99,"d":1},{"x":3100,"y":3300,"c":1,"d":1},{"x":3300,"y":3300,"c":1,"d":1},{"x":3500,"y":3300,"c":1,"d":1},{"x":3700,"y":3300,"c":1,"d":1},{"x":3900,"y":3300,"c":1,"d":0.99},{"x":4100,"y":3300,"c":1,"d":0.99},{"x":4300,"y":3300,"c":1,"d":0.98},{"x":4500,"y":3300,"c":0.99,"d":0.98},{"x":4700,"y":3300,"c":0.99,"d":0.97},{"x":4900,"y":3300,"c":0.98,"d":0.97},
{"x":100,"y":3500,"c":0.9,"d":0.86},{"x":300,"y":3500,"c":0.92,"d":0.86},{"x":500,"y":3500,"c":0.94,"d":0.86},{"x":700,"y":3500,"c":0.95,"d":0.86},{"x":900,"y":3500,"c":0.96,"d":0.85},{"x":1100,"y":3500,"c":0.96,"d":0.87},{"x":1300,"y":3500,"c":0.97,"d":0.89},{"x":1500,"y":3500,"c":0.97,"d":0.91},{"x":1700,"y":3500,"c":0.97,"d":0.92},{"x":1900,"y":3500,"c":0.97,"d":0.95},{"x":2100,"y":3500,"c":0.97,"d":0.96},{"x":2300,"y":3500,"c":0.98,"d":0.97},{"x":2500,"y":3500,"c":0.98,"d":0.98},{"x":2700,"y":3500,"c":0.99,"d":0.99},{"x":2900,"y":3500,"c":0.99,"d":1},{"x":3100,"y":3500,"c":0.99,"d":1},{"x":3300,"y":3500,"c":1,"d":1},{"x":3500,"y":3500,"c":1,"d":1},{"x":3700,"y":3500,"c":1,"d":1},{"x":3900,"y":3500,"c":1,"d":1},{"x":4100,"y":3500,"c":1,"d":0.99},{"x":4300,"y":3500,"c":1,"d":0.99},{"x":4500,"y":3500,"c":1,"d":0.98},{"x":4700,"y":3500,"c":0.99,"d":0.98},{"x":4900,"y":3500,"c":0.99,"d":0.97},
{"x":100,"y":3700,"c":0.89,"d":0.85},{"x":300,"y":3700,"c":0.92,"d":0.85},{"x":500,"y":3700,"c":0.93,"d":0.85},{"x":700,"y":3700,"c":0.94,"d":0.84},{"x":900,"y":3700,"c":0.95,"d":0.84},{"x":1100,"y":3700,"c":0.96,"d":0.85},{"x":1300,"y":3700,"c":0.96,"d":0.87},{"x":1500,"y":3700,"c":0.97,"d":0.89},{"x":1700,"y":3700,"c":0.97,"d":0.91},{"x":1900,"y":3700,"c":0.97,"d":0.92},{"x":2100,"y":3700,"c":0.97,"d":0.95},{"x":2300,"y":3700,"c":0.97,"d":0.96},{"x":2500,"y":3700,"c":0.98,"d":0.98},{"x":2700,"y":3700,"c":0.98,"d":0.99},{"x":2900,"y":3700,"c":0.99,"d":0.99},{"x":3100,"y":3700,"c":0.99,"d":1},{"x":3300,"y":3700,"c":0.99,"d":1},{"x":3500,"y":3700,"c":1,"d":1},{"x":3700,"y":3700,"c":1,"d":1},{"x":3900,"y":3700,"c":1,"d":1},{"x":4100,"y":3700,"c":1,"d":1},{"x":4300,"y":3700,"c":1,"d":0.99},{"x":4500,"y":3700,"c":1,"d":0.99},{"x":4700,"y":3700,"c":1,"d":0.98},{"x":4900,"y":3700,"c":0.99,"d":0.98},
{"x":100,"y":3900,"c":0.87,"d":0.84},{"x":300,"y":3900,"c":0.91,"d":0.84},{"x":500,"y":3900,"c":0.92,"d":0.84},{"x":700,"y":3900,"c":0.93,"d":0.83},{"x":900,"y":3900,"c":0.94,"d":0.83},{"x":1100,"y":3900,"c":0.95,"d":0.83},{"x":1300,"y":3900,"c":0.96,"d":0.85},{"x":1500,"y":3900,"c":0.96,"d":0.87},{"x":1700,"y":3900,"c":0.97,"d":0.89},{"x":1900,"y":3900,"c":0.97,"d":0.91},{"x":2100,"y":3900,"c":0.97,"d":0.92},{"x":2300,"y":3900,"c":0.97,"d":0.95},{"x":2500,"y":3900,"c":0.97,"d":0.97},{"x":2700,"y":3900,"c":0.98,"d":0.98},{"x":2900,"y":3900,"c":0.98,"d":0.99},{"x":3100,"y":3900,"c":0.99,"d":1},{"x":3300,"y":3900,"c":0.99,"d":1},{"x":3500,"y":3900,"c":0.99,"d":1},{"x":3700,"y":3900,"c":1,"d":1},{"x":3900,"y":3900,"c":1,"d":1},{"x":4100,"y":3900,"c":1,"d":1},{"x":4300,"y":3900,"c":1,"d":1},{"x":4500,"y":3900,"c":1,"d":0.99},{"x":4700,"y":3900,"c":1,"d":0.99},{"x":4900,"y":3900,"c":1,"d":0.98},
{"x":100,"y":4100,"c":0.86,"d":0.84},{"x":300,"y":4100,"c":0.9,"d":0.84},{"x":500,"y":4100,"c":0.92,"d":0.83},{"x":700,"y":4100,"c":0.92,"d":0.82},{"x":900,"y":4100,"c":0.93,"d":0.82},{"x":1100,"y":4100,"c":0.94,"d":0.82},{"x":1300,"y":4100,"c":0.95,"d":0.83},{"x":1500,"y":4100,"c":0.96,"d":0.85},{"x":1700,"y":4100,"c":0.96,"d":0.87},{"x":1900,"y":4100,"c":0.97,"d":0.89},{"x":2100,"y":4100,"c":0.97,"d":0.91},{"x":2300,"y":4100,"c":0.97,"d":0.93},{"x":2500,"y":4100,"c":0.97,"d":0.95},{"x":2700,"y":4100,"c":0.97,"d":0.97},{"x":2900,"y":4100,"c":0.98,"d":0.98},{"x":3100,"y":4100,"c":0.98,"d":0.99},{"x":3300,"y":4100,"c":0.99,"d":1},{"x":3500,"y":4100,"c":0.99,"d":1},{"x":3700,"y":4100,"c":1,"d":1},{"x":3900,"y":4100,"c":1,"d":1},{"x":4100,"y":4100,"c":1,"d":1},{"x":4300,"y":4100,"c":1,"d":1},{"x":4500,"y":4100,"c":1,"d":1},{"x":4700,"y":4100,"c":1,"d":0.99},{"x":4900,"y":4100,"c":1,"d":0.98},
{"x":100,"y":4300,"c":0.86,"d":0.83},{"x":300,"y":4300,"c":0.89,"d":0.83},{"x":500,"y":4300,"c":0.91,"d":0.82},{"x":700,"y":4300,"c":0.91,"d":0.81},{"x":900,"y":4300,"c":0.92,"d":0.81},{"x":1100,"y":4300,"c":0.93,"d":0.81},{"x":1300,"y":4300,"c":0.94,"d":0.82},{"x":1500,"y":4300,"c":0.95,"d":0.84},{"x":1700,"y":4300,"c":0.96,"d":0.85},{"x":1900,"y":4300,"c":0.96,"d":0.87},{"x":2100,"y":4300,"c":0.97,"d":0.89},{"x":2300,"y":4300,"c":0.97,"d":0.91},{"x":2500,"y":4300,"c":0.97,"d":0.93},{"x":2700,"y":4300,"c":0.97,"d":0.96},{"x":2900,"y":4300,"c":0.98,"d":0.97},{"x":3100,"y":4300,"c":0.98,"d":0.98},{"x":3300,"y":4300,"c":0.98,"d":0.99},{"x":3500,"y":4300,"c":0.99,"d":1},{"x":3700,"y":4300,"c":0.99,"d":1},{"x":3900,"y":4300,"c":1,"d":1},{"x":4100,"y":4300,"c":1,"d":1},{"x":4300,"y":4300,"c":1,"d":1},{"x":4500,"y":4300,"c":1,"d":1},{"x":4700,"y":4300,"c":1,"d":0.99},{"x":4900,"y":4300,"c":1,"d":0.99},
{"x":100,"y":4500,"c":0.86,"d":0.83},{"x":300,"y":4500,"c":0.88,"d":0.83},{"x":500,"y":4500,"c":0.9,"d":0.82},{"x":700,"y":4500,"c":0.91,"d":0.81},{"x":900,"y":4500,"c":0.92,"d":0.8},{"x":1100,"y":4500,"c":0.92,"d":0.8},{"x":1300,"y":4500,"c":0.93,"d":0.81},{"x":1500,"y":4500,"c":0.94,"d":0.82},{"x":1700,"y":4500,"c":0.95,"d":0.84},{"x":1900,"y":4500,"c":0.96,"d":0.86},{"x":2100,"y":4500,"c":0.96,"d":0.87},{"x":2300,"y":4500,"c":0.97,"d":0.9},{"x":2500,"y":4500,"c":0.97,"d":0.92},{"x":2700,"y":4500,"c":0.97,"d":0.94},{"x":2900,"y":4500,"c":0.97,"d":0.96},{"x":3100,"y":4500,"c":0.98,"d":0.97},{"x":3300,"y":4500,"c":0.98,"d":0.98},{"x":3500,"y":4500,"c":0.99,"d":0.99},{"x":3700,"y":4500,"c":0.99,"d":1},{"x":3900,"y":4500,"c":1,"d":1},{"x":4100,"y":4500,"c":1,"d":1},{"x":4300,"y":4500,"c":1,"d":1},{"x":4500,"y":4500,"c":1,"d":1},{"x":4700,"y":4500,"c":1,"d":0.99},{"x":4900,"y":4500,"c":1,"d":0.99},
{"x":100,"y":4700,"c":0.86,"d":0.83},{"x":300,"y":4700,"c":0.87,"d":0.83},{"x":500,"y":4700,"c":0.89,"d":0.82},{"x":700,"y":4700,"c":0.9,"d":0.8},{"x":900,"y":4700,"c":0.91,"d":0.8},{"x":1100,"y":4700,"c":0.92,"d":0.8},{"x":1300,"y":4700,"c":0.92,"d":0.8},{"x":1500,"y":4700,"c":0.94,"d":0.82},{"x":1700,"y":4700,"c":0.95,"d":0.83},{"x":1900,"y":4700,"c":0.95,"d":0.85},{"x":2100,"y":4700,"c":0.96,"d":0.87},{"x":2300,"y":4700,"c":0.97,"d":0.89},{"x":2500,"y":4700,"c":0.97,"d":0.91},{"x":2700,"y":4700,"c":0.97,"d":0.93},{"x":2900,"y":4700,"c":0.97,"d":0.95},{"x":3100,"y":4700,"c":0.97,"d":0.97},{"x":3300,"y":4700,"c":0.98,"d":0.97},{"x":3500,"y":4700,"c":0.98,"d":0.98},{"x":3700,"y":4700,"c":0.99,"d":0.99},{"x":3900,"y":4700,"c":0.99,"d":0.99},{"x":4100,"y":4700,"c":1,"d":1},{"x":4300,"y":4700,"c":1,"d":1},{"x":4500,"y":4700,"c":1,"d":0.99},{"x":4700,"y":4700,"c":1,"d":0.99},{"x":4900,"y":4700,"c":1,"d":0.98},
{"x":100,"y":4900,"c":0.86,"d":0.83},{"x":300,"y":4900,"c":0.87,"d":0.83},{"x":500,"y":4900,"c":0.89,"d":0.82},{"x":700,"y":4900,"c":0.9,"d":0.8},{"x":900,"y":4900,"c":0.91,"d":0.8},{"x":1100,"y":4900,"c":0.91,"d":0.8},{"x":1300,"y":4900,"c":0.92,"d":0.8},{"x":1500,"y":4900,"c":0.93,"d":0.81},{"x":1700,"y":4900,"c":0.94,"d":0.83},{"x":1900,"y":4900,"c":0.95,"d":0.85},{"x":2100,"y":4900,"c":0.96,"d":0.86},{"x":2300,"y":4900,"c":0.96,"d":0.89},{"x":2500,"y":4900,"c":0.97,"d":0.91},{"x":2700,"y":4900,"c":0.97,"d":0.93},{"x":2900,"y":4900,"c":0.97,"d":0.95},{"x":3100,"y":4900,"c":0.97,"d":0.96},{"x":3300,"y":4900,"c":0.98,"d":0.97},{"x":3500,"y":4900,"c":0.98,"d":0.97},{"x":3700,"y":4900,"c":0.99,"d":0.98},{"x":3900,"y":4900,"c":0.99,"d":0.98},{"x":4100,"y":4900,"c":1,"d":0.99},{"x":4300,"y":4900,"c":1,"d":0.99},{"x":4500,"y":4900,"c":1,"d":0.99},{"x":4700,"y":4900,"c":1,"d":0.99},{"x":4900,"y":4900,"c":1,"d":0.98}
]},
"concat":[
{"width":321,"height":262,"resolve":{"axis":{"x":"independent","y":"independent"}},"layer":[
{"data":{"name":"a"},"mark":{"type":"point","filled":true,"size":5,"opacity":1},"encoding":{
"x":{"field":"x","type":"quantitative","scale":{"domain":[0,100],"range":[0,321],"nice":false,"zero":false},"axis":{"values":[0,20,40,60,80,100],"title":"Temporal Position #","labelFontSize":10,"titleFontSize":10,"labelPadding":5}},
"y":{"field":"y","type":"quantitative","scale":{"domain":[0,100],"range":[262,8],"nice":false,"zero":false},"axis":{"values":[0,10,20,30,40,50,60,70,80,90,100],"title":"Slice #","labelFontSize":10,"titleFontSize":10}},
"color":{"field":"m","type":"nominal","scale":{"domain":[1,2,3,4],"range":["#35429a","#14854c","#ee2a3a","#22bfc0"]},"legend":{"orient":"none","legendX":19,"legendY":18,"title":null,"labelExpr":"'Measurement '+datum.label","labelFont":"Liberation Sans","labelFontSize":10,"labelColor":"#333","symbolType":"circle","symbolSize":6,"symbolOffset":15,"labelOffset":9,"rowPadding":3,"padding":4,"strokeColor":"#555","fillColor":"white","cornerRadius":0}}}},
{"data":{"values":[{}]},"mark":{"type":"point","opacity":0},"encoding":{
"x":{"datum":0,"type":"quantitative","axis":{"orient":"top","labels":false,"title":null,"offset":-8,"values":[0,20,40,60,80,100]}},
"y":{"datum":0,"type":"quantitative","axis":{"orient":"right","labels":false,"title":null,"values":[0,10,20,30,40,50,60,70,80,90,100]}}}},
{"data":{"values":[{}]},"mark":{"type":"text","text":"a","font":"Liberation Sans","fontWeight":"bold","fontSize":30,"align":"left","baseline":"alphabetic","color":"#222"},"encoding":{"x":{"datum":-10.6,"type":"quantitative","axis":null},"y":{"datum":-18,"type":"quantitative","axis":null}}}
]},
{"width":326,"height":262,"resolve":{"axis":{"x":"independent","y":"independent"}},"layer":[
{"data":{"name":"b"},"mark":{"type":"point","filled":true,"size":7,"opacity":1},"encoding":{
"x":{"field":"x","type":"quantitative","scale":{"domain":[0,100],"range":[5,326],"nice":false,"zero":false},"axis":{"values":[0,20,40,60,80,100],"title":"Temporal Position #","labelFontSize":10,"titleFontSize":10,"labelPadding":5}},
"y":{"field":"y","type":"quantitative","scale":{"domain":[0,100],"range":[262,0],"nice":false,"zero":false},"axis":{"values":[0,10,20,30,40,50,60,70,80,90,100],"title":"Slice #","offset":-5,"labelFontSize":10,"titleFontSize":10,"labelPadding":4,"titlePadding":7}},
"color":{"field":"m","type":"nominal","scale":{"domain":[1,2,3,4],"range":["#35429a","#14854c","#ee2a3a","#22bfc0"]},"legend":null}}},
{"data":{"values":[{}]},"mark":{"type":"point","opacity":0},"encoding":{
"x":{"datum":0,"type":"quantitative","axis":{"orient":"top","labels":false,"title":null,"values":[0,20,40,60,80,100]}},
"y":{"datum":0,"type":"quantitative","axis":{"orient":"right","labels":false,"title":null,"values":[0,10,20,30,40,50,60,70,80,90,100]}}}},
{"data":{"values":[{}]},"mark":{"type":"text","text":"b","font":"Liberation Sans","fontWeight":"bold","fontSize":30,"align":"left","baseline":"alphabetic","color":"#222"},"encoding":{"x":{"datum":-3.4,"type":"quantitative","axis":null},"y":{"datum":-18.7,"type":"quantitative","axis":null}}}
]},
{"width":321,"height":289,"resolve":{"axis":{"x":"independent","y":"independent"}},"layer":[
{"data":{"name":"h"},"mark":{"type":"rect","width":12.4,"height":12},"encoding":{
"x":{"field":"x","type":"quantitative","scale":{"domain":[1,5000],"range":[10,306],"nice":false,"zero":false},"axis":{"values":[1000,2000,3000,4000,5000],"format":"d","title":"Dictionary T1 (ms)","labelPadding":7,"titlePadding":11,"zindex":1}},
"y":{"field":"y","type":"quantitative","scale":{"domain":[1,5000],"range":[1,289],"nice":false,"zero":false},"axis":{"values":[500,1000,1500,2000,2500,3000,3500,4000,4500,5000],"format":"d","title":"Dictionary T1 (ms)","offset":-10,"labelPadding":7,"titlePadding":3,"zindex":1}},
"color":{"field":"c","type":"quantitative","scale":{"domain":[0.8,0.82,0.84,0.86,0.88,0.9,0.92,0.93,0.94,0.96,0.97,0.98,0.99,1],"range":["#2b2e83","#2e4a9e","#2f74b8","#3ab4e6","#6fc7c8","#a6cb5a","#f2e81a","#fdd10f","#fdb515","#f26a24","#ed1c24","#c11f26","#9a1a1e","#7c1214"]},"legend":null}}},
{"data":{"name":"h"},"transform":[{"filter":"datum.x>100&&datum.x<4900&&datum.y>100&&datum.y<4900"}],"mark":{"type":"rect","width":28,"height":28,"opacity":0.3},"encoding":{"x":{"field":"x","type":"quantitative","axis":null},"y":{"field":"y","type":"quantitative","axis":null},"color":{"field":"c","type":"quantitative","legend":null}}},
{"data":{"name":"h"},"transform":[{"filter":"datum.x>100&&datum.x<4900&&datum.y>100&&datum.y<4900"}],"mark":{"type":"rect","width":20,"height":20,"opacity":0.5},"encoding":{"x":{"field":"x","type":"quantitative","axis":null},"y":{"field":"y","type":"quantitative","axis":null},"color":{"field":"c","type":"quantitative","legend":null}}},
{"data":{"values":[{}]},"mark":{"type":"point","opacity":0},"encoding":{
"x":{"datum":1,"type":"quantitative","axis":{"orient":"top","labels":false,"title":null,"zindex":1,"values":[1000,2000,3000,4000,5000]}},
"y":{"datum":1,"type":"quantitative","axis":{"orient":"right","labels":false,"title":null,"offset":-15,"zindex":1,"values":[500,1000,1500,2000,2500,3000,3500,4000,4500,5000]}}}},
{"data":{"values":[{}]},"mark":{"type":"text","text":"c","font":"Liberation Sans","fontWeight":"bold","fontSize":30,"align":"left","baseline":"alphabetic","color":"#222"},"encoding":{"x":{"datum":-743,"type":"quantitative","axis":null},"y":{"datum":5990,"type":"quantitative","axis":null}}}
]},
{"width":326,"height":289,"title":{"text":"no units","orient":"right","angle":270,"fontSize":20,"fontWeight":"normal","font":"Liberation Sans","color":"#222","offset":-52,"dy":-8,"dx":10,"anchor":"middle"},"resolve":{"axis":{"x":"independent","y":"independent"}},"layer":[
{"data":{"name":"h"},"mark":{"type":"rect","width":12.4,"height":12},"encoding":{
"x":{"field":"x","type":"quantitative","scale":{"domain":[1,5000],"range":[0,297],"nice":false,"zero":false},"axis":{"values":[1000,2000,3000,4000,5000],"format":"d","title":"Dictionary T1 (ms)","labelPadding":7,"titlePadding":7,"zindex":1}},
"y":{"field":"y","type":"quantitative","scale":{"domain":[1,5000],"range":[0,289],"nice":false,"zero":false},"axis":{"values":[500,1000,1500,2000,2500,3000,3500,4000,4500,5000],"labels":false,"title":null,"zindex":1}},
"color":{"field":"d","type":"quantitative","scale":{"domain":[0.8,0.82,0.84,0.86,0.88,0.9,0.92,0.93,0.94,0.96,0.97,0.98,0.99,1],"range":["#2b2e83","#2e4a9e","#2f74b8","#3ab4e6","#6fc7c8","#a6cb5a","#f2e81a","#fdd10f","#fdb515","#f26a24","#ed1c24","#c11f26","#9a1a1e","#7c1214"]},"legend":{"orient":"none","legendX":305,"legendY":2,"title":null,"direction":"vertical","gradientLength":289,"gradientThickness":21,"values":[0.8,0.82,0.84,0.86,0.88,0.9,0.92,0.94,0.96,0.98,1],"format":"~g","labelFont":"Liberation Sans","labelFontSize":10.5,"labelColor":"#333","labelOverlap":false,"gradientStrokeColor":"#555","gradientStrokeWidth":0.5}}}},
{"data":{"name":"h"},"transform":[{"filter":"datum.x>100&&datum.x<4900&&datum.y>100&&datum.y<4900"}],"mark":{"type":"rect","width":28,"height":28,"opacity":0.3},"encoding":{"x":{"field":"x","type":"quantitative","axis":null},"y":{"field":"y","type":"quantitative","axis":null},"color":{"field":"d","type":"quantitative","legend":null}}},
{"data":{"name":"h"},"transform":[{"filter":"datum.x>100&&datum.x<4900&&datum.y>100&&datum.y<4900"}],"mark":{"type":"rect","width":20,"height":20,"opacity":0.5},"encoding":{"x":{"field":"x","type":"quantitative","axis":null},"y":{"field":"y","type":"quantitative","axis":null},"color":{"field":"d","type":"quantitative","legend":null}}},
{"data":{"values":[{}]},"mark":{"type":"point","opacity":0},"encoding":{
"x":{"datum":1,"type":"quantitative","axis":{"orient":"top","labels":false,"title":null,"zindex":1,"values":[1000,2000,3000,4000,5000]}},
"y":{"datum":1,"type":"quantitative","axis":{"orient":"right","labels":false,"title":null,"offset":-29,"zindex":1,"values":[500,1000,1500,2000,2500,3000,3500,4000,4500,5000]}}}},
{"data":{"values":[{}]},"mark":{"type":"text","text":"d","font":"Liberation Sans","fontWeight":"bold","fontSize":30,"align":"left","baseline":"alphabetic","color":"#222"},"encoding":{"x":{"datum":0,"type":"quantitative","axis":null},"y":{"datum":5950,"type":"quantitative","axis":null}}}
]}
]}
